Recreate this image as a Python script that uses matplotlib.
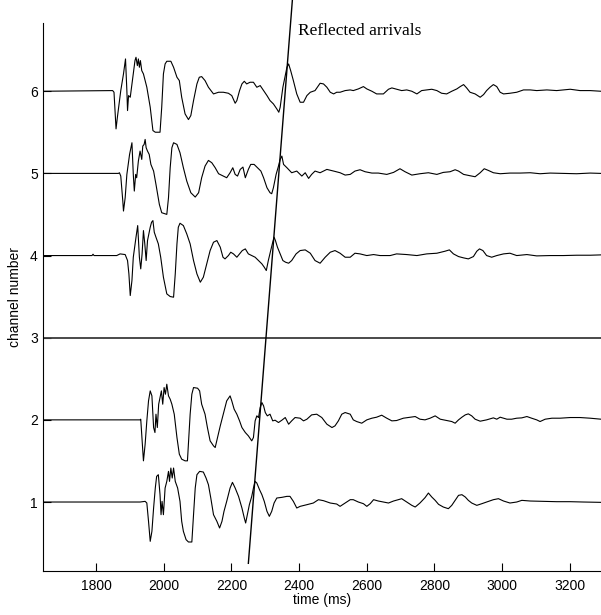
import matplotlib
matplotlib.use("Agg")
import matplotlib.pyplot as plt
import numpy as np

t6 = [1644, 1849, 1853, 1859, 1863, 1873, 1881, 1887, 1891, 1893, 1896, 1901, 1906, 1910, 1915, 1918,
      1922, 1925, 1928, 1931, 1935, 1940, 1945, 1950, 1960, 1968, 1975, 1989, 1994, 1999, 2004, 2009,
      2021, 2029, 2039, 2046, 2053, 2063, 2073, 2080, 2088, 2098, 2105, 2112, 2122, 2132, 2147, 2162,
      2176, 2191, 2201, 2211, 2216, 2224, 2231, 2238, 2245, 2255, 2265, 2275, 2285, 2295, 2305, 2314,
      2324, 2334, 2340, 2344, 2352, 2359, 2364, 2369, 2375, 2383, 2393, 2403, 2413, 2423, 2433, 2447,
      2462, 2472, 2482, 2492, 2502, 2511, 2521, 2536, 2551, 2560, 2575, 2590, 2600, 2615, 2629, 2649,
      2664, 2674, 2688, 2703, 2718, 2733, 2748, 2762, 2777, 2792, 2807, 2821, 2836, 2851, 2866, 2876,
      2886, 2895, 2905, 2920, 2935, 2945, 2954, 2964, 2974, 2984, 2994, 3004, 3023, 3043, 3063, 3083,
      3102, 3132, 3161, 3181, 3201, 3230, 3260, 3292]
a6 = [0, 2, -3, -113, -78, 2, 52, 97, 2, -58, -13, -18, 22, 52, 92, 102,
      77, 97, 72, 92, 62, 52, 32, 12, -48, -118, -123, -123, -48, 52, 82, 90,
      90, 72, 42, 32, -18, -68, -85, -73, -28, 22, 42, 44, 32, 12, -8, -3,
      -3, -6, -13, -36, -28, 2, 22, 30, 22, 27, 27, 12, 17, 2, -13, -28,
      -38, -53, -63, -48, 12, 47, 72, 82, 62, 32, -8, -33, -33, -13, -3, 2,
      24, 22, 12, -3, -8, -3, -3, 2, 4, 2, 7, 14, 7, 0, -8, -8,
      6, 10, 6, 2, 4, 0, -8, 2, 4, 6, 2, -6, -8, 0, 7, 14,
      20, 10, -3, -8, -18, -10, 2, 12, 20, 14, -3, -8, -6, -3, 4, 4,
      2, 4, 2, 4, 6, 2, 2, 0]

t5 = [1644, 1866, 1869, 1873, 1879, 1881, 1886, 1891, 1899, 1906, 1910, 1913, 1917, 1920, 1925, 1930,
      1935, 1938, 1942, 1945, 1948, 1952, 1957, 1962, 1970, 1977, 1987, 1994, 2009, 2014, 2019, 2024,
      2029, 2039, 2048, 2058, 2068, 2080, 2093, 2103, 2112, 2122, 2132, 2142, 2152, 2162, 2176, 2186,
      2196, 2204, 2211, 2218, 2226, 2234, 2241, 2250, 2257, 2267, 2277, 2287, 2295, 2305, 2314, 2319,
      2324, 2332, 2339, 2344, 2349, 2354, 2364, 2378, 2393, 2408, 2418, 2428, 2437, 2447, 2462, 2482,
      2502, 2521, 2536, 2551, 2565, 2580, 2595, 2615, 2634, 2659, 2679, 2698, 2713, 2733, 2757, 2782,
      2807, 2826, 2846, 2861, 2871, 2886, 2905, 2920, 2935, 2947, 2959, 2974, 2994, 3023, 3053, 3083,
      3112, 3142, 3181, 3220, 3260, 3292]
a5 = [0, 0, 2, -8, -83, -113, -73, -3, 57, 92, -3, -53, -3, -13, 37, 67,
      42, 82, 87, 102, 77, 67, 57, 27, 7, -33, -93, -118, -123, -73, 17, 77,
      92, 87, 62, 17, -23, -58, -71, -58, -13, 22, 39, 32, 17, -1, -8, -13,
      2, 17, -3, -8, 12, 19, -13, 12, 27, 27, 17, 7, -13, -43, -58, -61,
      -43, -3, 22, 42, 52, 27, 17, 2, 7, -8, 2, -15, -3, 7, 2, 12,
      7, 2, -5, -3, 7, 11, 5, 1, 1, -3, 3, 14, 5, -5, -1, 2,
      -3, 3, 5, 11, 7, -3, -7, -10, 2, 14, 9, 2, -1, 1, 1, 2,
      -1, 1, 0, -1, 1, 0]

t4 = [1644, 1788, 1791, 1794, 1861, 1871, 1886, 1893, 1897, 1901, 1906, 1910, 1918, 1923, 1928, 1932,
      1936, 1940, 1944, 1948, 1952, 1956, 1960, 1964, 1968, 1972, 1977, 1984, 1991, 1999, 2009, 2019,
      2029, 2034, 2039, 2043, 2048, 2058, 2068, 2078, 2088, 2098, 2108, 2117, 2127, 2137, 2147, 2157,
      2167, 2175, 2181, 2191, 2198, 2206, 2216, 2224, 2232, 2241, 2250, 2260, 2270, 2280, 2290, 2297,
      2303, 2309, 2316, 2322, 2326, 2330, 2336, 2344, 2352, 2360, 2369, 2378, 2391, 2403, 2418, 2433,
      2447, 2462, 2477, 2492, 2506, 2521, 2536, 2551, 2565, 2580, 2600, 2620, 2639, 2669, 2688, 2718,
      2748, 2777, 2807, 2831, 2844, 2856, 2871, 2886, 2900, 2915, 2925, 2933, 2943, 2954, 2969, 2984,
      3004, 3023, 3043, 3073, 3102, 3142, 3181, 3220, 3260, 3292]
a4 = [0, 0, 4, 0, 0, 5, 3, -15, -55, -120, -75, -5, 55, 90, -5, -40,
      5, 75, 35, -15, 45, 65, 85, 100, 105, 70, 55, 35, -5, -65, -115, -123,
      -125, -55, 35, 85, 97, 90, 65, 35, -15, -55, -80, -65, -25, 15, 40, 45,
      25, -5, -10, 0, 10, 5, -5, 5, 15, 20, 5, 0, -5, -15, -25, -35,
      -45, -15, 15, 40, 55, 45, 25, 5, -15, -20, -23, -15, 5, 15, 17, 7,
      -15, -23, -5, 10, 15, 7, -5, -5, 7, 5, 0, 3, 0, 0, 5, 3,
      0, 5, 7, 13, 17, 5, -3, -7, -10, -3, 13, 20, 15, 0, -5, 0,
      5, 7, 0, 3, -1, 0, 0, 1, 1, 2]

# dead channel
t3 = [1644, 3292]
a3 = [0, 0]

t2 = [1644, 1930, 1932, 1936, 1940, 1945, 1950, 1955, 1960, 1965, 1970, 1974, 1977, 1981, 1985, 1989,
      1993, 1997, 2001, 2005, 2009, 2014, 2019, 2024, 2031, 2039, 2046, 2053, 2063, 2070, 2074, 2078,
      2083, 2088, 2100, 2106, 2112, 2122, 2129, 2137, 2147, 2152, 2159, 2167, 2176, 2186, 2196, 2201,
      2208, 2216, 2224, 2231, 2241, 2250, 2260, 2265, 2270, 2275, 2280, 2285, 2290, 2295, 2300, 2306,
      2314, 2322, 2329, 2339, 2349, 2359, 2369, 2378, 2388, 2403, 2413, 2423, 2437, 2452, 2467, 2482,
      2497, 2506, 2516, 2526, 2536, 2551, 2560, 2570, 2585, 2600, 2615, 2629, 2644, 2659, 2674, 2688,
      2708, 2728, 2743, 2757, 2772, 2787, 2802, 2817, 2836, 2851, 2861, 2871, 2881, 2891, 2900, 2910,
      2920, 2935, 2954, 2974, 2984, 2994, 3014, 3028, 3043, 3058, 3073, 3087, 3102, 3112, 3127, 3147,
      3171, 3201, 3230, 3260, 3292]
a2 = [0, 0, 2, -63, -123, -73, -3, 57, 87, 72, -23, -38, 17, -23, 47, 67,
      87, 47, 97, 77, 107, 72, 62, 47, 17, -53, -103, -118, -123, -123, -53, 17,
      77, 97, 95, 87, 47, 17, -23, -63, -78, -83, -53, -18, 17, 57, 72, 57,
      32, 17, -3, -23, -38, -48, -63, -53, -3, 12, 7, 37, 52, 42, 22, 12,
      17, -3, -1, -8, -1, 7, -13, -3, 7, 5, -3, 2, 15, 17, 7, -13,
      -23, -18, -3, 17, 22, 17, 0, -5, -10, 0, 5, 8, 14, 5, -3, -2,
      5, 8, 10, 2, 0, 5, 12, 2, -2, -5, -10, 0, 8, 15, 18, 12,
      2, -4, 0, 6, 2, 8, 2, 2, 5, 6, 10, 5, 0, -5, 2, 5,
      5, 7, 7, 5, 2]

t1 = [1644, 1930, 1945, 1950, 1955, 1960, 1965, 1970, 1975, 1979, 1984, 1989, 1992, 1995, 1999, 2004,
      2009, 2014, 2017, 2021, 2025, 2029, 2034, 2041, 2048, 2053, 2058, 2066, 2073, 2083, 2088, 2093,
      2098, 2106, 2117, 2125, 2132, 2139, 2147, 2157, 2165, 2172, 2178, 2186, 2196, 2203, 2211, 2221,
      2231, 2238, 2242, 2247, 2253, 2260, 2265, 2270, 2275, 2283, 2290, 2297, 2305, 2312, 2319, 2326,
      2334, 2349, 2364, 2373, 2383, 2393, 2403, 2423, 2442, 2457, 2472, 2492, 2511, 2521, 2536, 2551,
      2560, 2575, 2590, 2600, 2610, 2620, 2634, 2649, 2664, 2679, 2693, 2703, 2718, 2733, 2743, 2757,
      2772, 2782, 2792, 2802, 2812, 2826, 2841, 2851, 2861, 2871, 2881, 2891, 2900, 2910, 2925, 2940,
      2954, 2974, 2989, 3004, 3023, 3043, 3058, 3083, 3122, 3161, 3201, 3240, 3292]
a1 = [0, 0, 2, -3, -58, -118, -88, -18, 42, 77, 82, 22, -38, 2, -38, 42,
      62, 92, 62, 102, 72, 102, 62, 42, 2, -58, -88, -113, -120, -120, -38, 42,
      82, 92, 90, 72, 52, 12, -38, -58, -78, -58, -28, 2, 42, 59, 42, 17,
      -18, -48, -63, -38, -8, 17, 42, 62, 57, 37, 22, 2, -28, -43, -28, -3,
      12, 14, 17, 17, 2, -18, -13, -8, -3, 7, 4, -3, -6, -13, -3, 7,
      7, 0, -5, -13, -5, 7, 3, 0, -3, 3, 7, 10, 0, -10, -15, -3,
      13, 27, 15, 5, -7, -15, -20, -10, 5, 20, 22, 15, 5, -3, -10, -5,
      0, 7, 10, 3, -3, 0, 5, 3, 2, 1, 1, 0, -1]

channels = [1, 2, 3, 4, 5, 6]
times = [t1, t2, t3, t4, t5, t6]
amps = [a1, a2, a3, a4, a5, a6]
gain = 1 / 246.6  # counts -> channel spacing

# reflected arrivals moveout line
refl_t = [2250, 2380]
refl_y = [0.254, 7.107]

plt.rcParams['font.family'] = ['Liberation Sans', 'DejaVu Sans']

fig = plt.figure(figsize=(6.01, 6.15), dpi=100)
ax = fig.add_axes([0.072, 0.0715, 0.928, 0.891])

for ch, t, a in zip(channels, times, amps):
    if ch == 3:
        ax.plot(t, ch + np.array(a) * gain, color="#3a3a3a", lw=1.3)
    else:
        ax.plot(t, ch + np.array(a) * gain, color="black", lw=0.8)

ax.plot(refl_t, refl_y, color="black", lw=1.0, clip_on=False)
ax.text(2397, 6.68, "Reflected arrivals", family=["Liberation Serif", "DejaVu Serif"],
        fontsize=12.5, va="baseline", ha="left")

ax.set_xlim(1644, 3292)
ax.set_ylim(0.16, 6.83)
ax.set_xticks([1800, 2000, 2200, 2400, 2600, 2800, 3000, 3200])
ax.set_yticks(channels)
ax.spines["top"].set_visible(False)
ax.spines["right"].set_visible(False)
ax.tick_params(direction="in", length=6, labelsize=10, width=0.8)
ax.tick_params(axis="x", pad=6)
ax.tick_params(axis="y", pad=4)
ax.set_xlabel("time (ms)", fontsize=10)
ax.set_ylabel("channel number", fontsize=10)
ax.xaxis.set_label_coords(0.5, -0.04)
ax.yaxis.set_label_coords(-0.039, 0.5)

fig.savefig("out.png", dpi=100)
